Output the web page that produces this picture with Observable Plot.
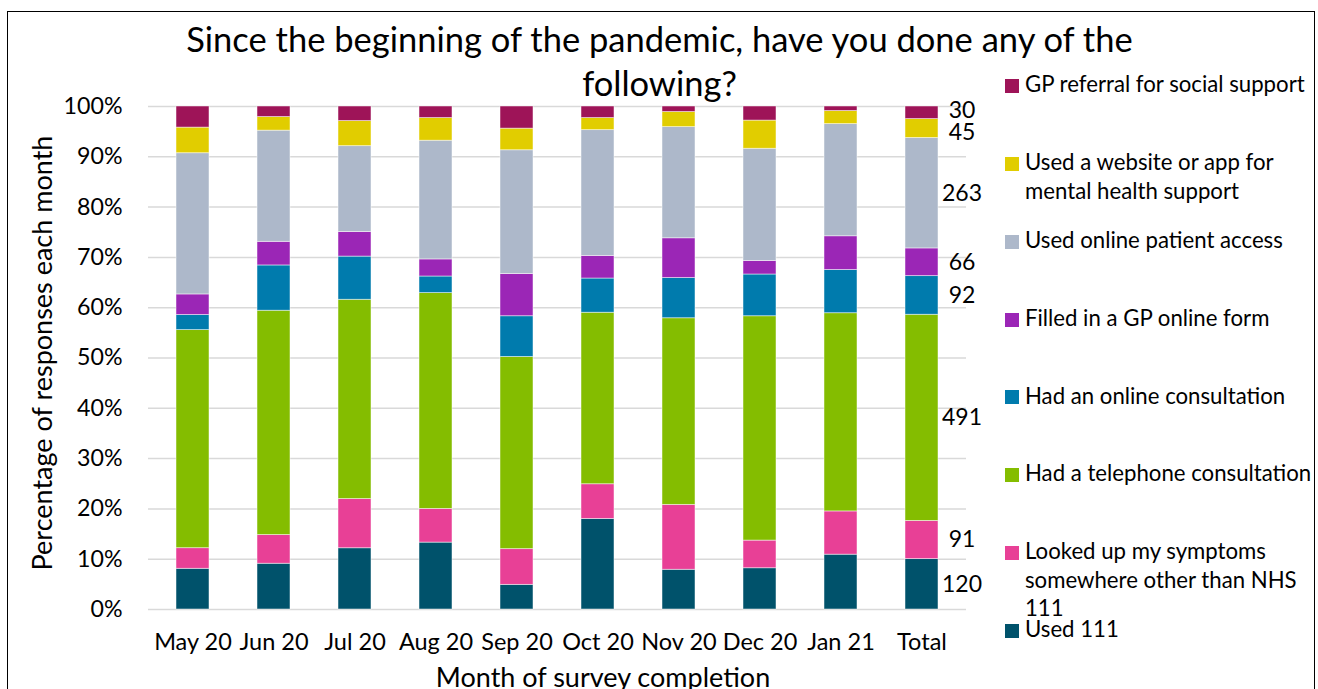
<!DOCTYPE html>
<html>
<head>
<meta charset="utf-8">
<script src="https://cdn.jsdelivr.net/npm/d3@7"></script>
<script src="https://cdn.jsdelivr.net/npm/@observablehq/plot@0.6"></script>
<style>
  html, body { margin: 0; padding: 0; background: #fff; }
  #wrap { position: relative; width: 1318px; height: 689px; overflow: hidden; font-family: Lato, "Open Sans", sans-serif; color: #000; }
  #frame { position: absolute; left: 7px; top: 11px; width: 1308px; height: 720px; border: 1.5px solid #000; box-sizing: border-box; pointer-events: none; }
  #chart { position: absolute; left: 0; top: 0; }
  #title { position: absolute; left: 0; width: 1319px; top: 17px; text-align: center; font-size: 34.5px; line-height: 44px; }
  #ytitle { position: absolute; left: 41px; top: 353px; transform: translate(-50%, -50%) rotate(-90deg); white-space: nowrap; font-size: 27px; line-height: 1; }
  #xtitle { position: absolute; left: 603px; top: 663px; transform: translateX(-50%); white-space: nowrap; font-size: 27px; line-height: 1; }
  #legend { position: absolute; left: 1005px; top: 0; }
  .item { position: absolute; left: 0; white-space: nowrap; font-size: 22.2px; line-height: 28.5px; }
  .sw { position: absolute; left: 0; width: 14px; height: 14px; }
  .lab { position: absolute; left: 20px; top: 0; }
</style>
</head>
<body>
<div id="wrap">
  <div id="chart"></div>
  <div id="title">Since the beginning of the pandemic, have you done any of the<br>following?</div>
  <div id="ytitle">Percentage of responses each month</div>
  <div id="xtitle">Month of survey completion</div>
  <div id="legend"></div>
  <div id="frame"></div>
</div>
<script>
// ---- data ----
const months = ["May 20", "Jun 20", "Jul 20", "Aug 20", "Sep 20", "Oct 20", "Nov 20", "Dec 20", "Jan 21"];
const categories = [...months, "Total"];

// series, bottom to top
const seriesNames = [
  "Used 111",
  "Looked up my symptoms somewhere other than NHS 111",
  "Had a telephone consultation",
  "Had an online consultation",
  "Filled in a GP online form",
  "Used online patient access",
  "Used a website or app for mental health support",
  "GP referral for social support"
];
const seriesColors = ["#00526b", "#e84096", "#84bd00", "#007bad", "#9b26b6", "#adb8ca", "#e1cd00", "#9e1458"];

// monthly percentages
const used111       = [8.1, 9.1, 12.2, 13.3, 4.9, 18.0, 7.9, 8.2, 10.9];
const lookedUp      = [4.1, 5.7, 9.8, 6.7, 7.1, 6.9, 12.9, 5.5, 8.6];
const telephone     = [43.4, 44.6, 39.7, 42.9, 38.2, 34.1, 37.1, 44.6, 39.4];
const onlineConsult = [3.0, 9.0, 8.6, 3.3, 8.1, 6.8, 8.0, 8.3, 8.6];
const onlineForm    = [4.1, 4.7, 4.9, 3.4, 8.4, 4.5, 7.9, 2.7, 6.7];
const patientAccess = [28.1, 22.1, 17.1, 23.6, 24.6, 25.0, 22.1, 22.3, 22.3];
const websiteApp    = [5.1, 2.7, 5.0, 4.5, 4.3, 2.4, 3.0, 5.6, 2.6];
const gpReferral    = [4.2, 2.1, 2.9, 2.3, 4.4, 2.3, 1.1, 2.8, 0.9];

// totals (counts, labelled on the Total bar)
const totalCounts = [120, 91, 491, 92, 66, 263, 45, 30];

const yTicks = [0, 0.1, 0.2, 0.3, 0.4, 0.5, 0.6, 0.7, 0.8, 0.9, 1];

// ---- build table ----
const seriesValues = [used111, lookedUp, telephone, onlineConsult, onlineForm, patientAccess, websiteApp, gpReferral];
const rows = [];
seriesNames.forEach((s, si) => {
  months.forEach((m, mi) => rows.push({month: m, series: s, value: seriesValues[si][mi]}));
});
const totalRows = seriesNames.map((s, si) => ({month: "Total", series: s, value: totalCounts[si], count: totalCounts[si]}));
const allRows = rows.concat(totalRows);

const stackOpts = {x: "month", y: "value", z: "series", order: seriesNames, offset: "normalize"};
const labelFor = (names) => (d) => names.includes(d.series) ? String(d.count) : null;
const others = seriesNames.slice(0, 6);

const chart = Plot.plot({
  width: 1318,
  height: 689,
  marginLeft: 148,
  marginRight: 352,
  marginTop: 106,
  marginBottom: 80,
  style: {fontFamily: "Lato, 'Open Sans', sans-serif", fontSize: "23px", color: "#000", background: "transparent", overflow: "visible"},
  x: {domain: categories, paddingInner: 0.59, paddingOuter: 0.295, label: null},
  y: {domain: [0, 1], label: null},
  color: {domain: seriesNames, range: seriesColors},
  marks: [
    Plot.gridY(yTicks, {stroke: "#d9d9d9", strokeOpacity: 1, strokeWidth: 1.5}),
    Plot.barY(allRows, Plot.stackY({...stackOpts, fill: "series", stroke: "#ffffff", strokeWidth: 0.8, strokeOpacity: 0.6})),
    Plot.text(totalRows, Plot.stackY({...stackOpts, text: labelFor(others), dx: 40, textAnchor: "middle", fill: "#000", fontSize: 23})),
    Plot.text(totalRows, Plot.stackY({...stackOpts, text: labelFor([seriesNames[6]]), dx: 40, dy: 4, textAnchor: "middle", fill: "#000", fontSize: 23})),
    Plot.text(totalRows, Plot.stackY({...stackOpts, text: labelFor([seriesNames[7]]), dx: 40, dy: -2.5, textAnchor: "middle", fill: "#000", fontSize: 23})),
    Plot.axisY(yTicks, {tickSize: 0, tickPadding: 26, tickFormat: d => Math.round(d * 100) + "%", label: null, fontSize: 23.2}),
    Plot.axisX({tickSize: 0, tickPadding: 24, label: null, fontSize: 23.5})
  ]
});
document.getElementById("chart").appendChild(chart);

// ---- legend (top to bottom) ----
const legendOrder = seriesNames.slice().reverse();
const legendColors = seriesColors.slice().reverse();
const legendLines = {
  "Used a website or app for mental health support": ["Used a website or app for", "mental health support"],
  "Looked up my symptoms somewhere other than NHS 111": ["Looked up my symptoms", "somewhere other than NHS", "111"]
};
const legend = document.getElementById("legend");
legendOrder.forEach((name, i) => {
  const baseline = 93 + i * 77.86;
  const item = document.createElement("div");
  item.className = "item";
  item.style.top = (baseline - 22.84) + "px";
  const sw = document.createElement("div");
  sw.className = "sw";
  sw.style.background = legendColors[i];
  sw.style.top = "8.84px";
  const lab = document.createElement("div");
  lab.className = "lab";
  lab.innerHTML = (legendLines[name] || [name]).join("<br>");
  item.appendChild(sw);
  item.appendChild(lab);
  legend.appendChild(item);
});
</script>
</body>
</html>
